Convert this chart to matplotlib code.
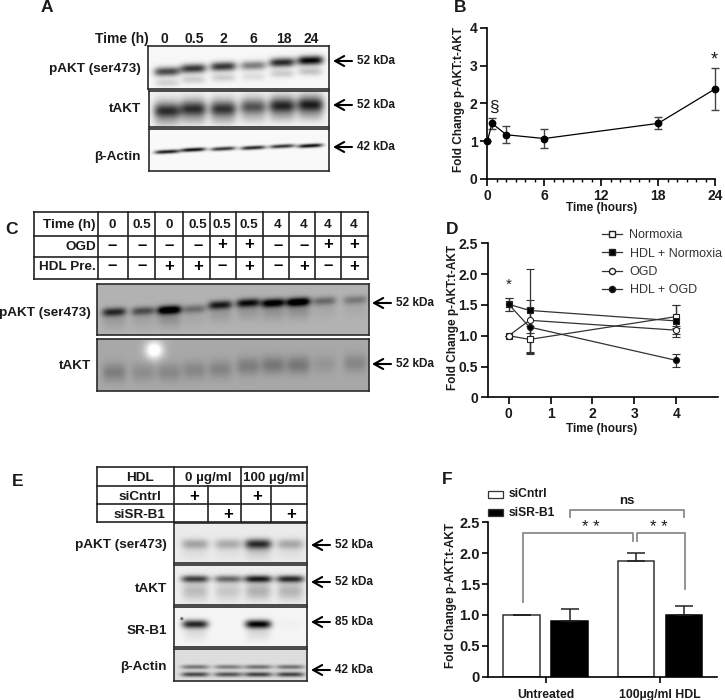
import numpy as np
import matplotlib
matplotlib.use("Agg")
import matplotlib.pyplot as plt
from matplotlib.lines import Line2D
from matplotlib.patches import Rectangle

plt.rcParams['font.family'] = ['Liberation Sans', 'DejaVu Sans']
W, H = 725, 700
BOLD = 'bold'

# ---------- data ----------
b_time = [0, 0.5, 2, 6, 18, 24]
b_fold = [1.0, 1.47, 1.17, 1.07, 1.47, 2.38]
b_err = [0.0, 0.15, 0.23, 0.25, 0.16, 0.55]

d_time = [0, 0.5, 4]
d_norm = [1.0, 0.94, 1.31]
d_norm_err = [0.0, 0.22, 0.19]
d_hdln = [1.51, 1.41, 1.24]
d_hdln_err = [0.11, 0.67, 0.26]
d_ogd = [1.0, 1.25, 1.09]
d_ogd_err = [0.0, 0.2, 0.06]
d_hdlo = [1.51, 1.14, 0.60]
d_hdlo_err = [0.11, 0.44, 0.11]

f_groups = ['Untreated', '100µg/ml HDL']
f_sictrl = [1.0, 1.87]
f_sictrl_err = [0.0, 0.13]
f_sisr = [0.9, 1.0]
f_sisr_err = [0.2, 0.15]

a_lanes = ['0', '0.5', '2', '6', '18', '24']
a_pakt = [0.72, 0.80, 0.80, 0.50, 0.85, 1.0]
a_takt = [0.72, 0.72, 0.70, 0.58, 0.75, 0.78]
a_actin = [0.85, 0.9, 0.75, 0.8, 0.75, 0.9]

c_time = ['0', '0.5', '0', '0.5', '0.5', '0.5', '4', '4', '4', '4']
c_ogd = ['-', '-', '-', '-', '+', '+', '-', '-', '+', '+']
c_hdl = ['-', '-', '+', '+', '-', '+', '-', '+', '-', '+']
c_pakt = [0.62, 0.45, 0.98, 0.30, 0.68, 0.75, 0.88, 0.98, 0.32, 0.25]
c_takt = [0.28, 0.18, 0.22, 0.22, 0.24, 0.28, 0.32, 0.32, 0.12, 0.22]

e_pakt = [0.32, 0.28, 0.85, 0.30]
e_takt = [0.78, 0.60, 0.95, 0.88]
e_srb1 = [0.85, 0.0, 1.0, 0.02]
e_actin = [0.6, 0.55, 0.62, 0.62]

fig = plt.figure(figsize=(W / 100, H / 100), dpi=100, facecolor='white')


def px_axes(x0, y0, x1, y1, **kw):
    return fig.add_axes([x0 / W, 1 - y1 / H, (x1 - x0) / W, (y1 - y0) / H], **kw)


ov = px_axes(0, 0, W, H)
ov.set_xlim(0, W)
ov.set_ylim(H, 0)
ov.axis('off')
ov.set_zorder(5)
ov.patch.set_alpha(0)


def txt(x, y, s, size=9.7, weight=BOLD, ha='center', va='center', color='#1a1a1a', **kw):
    ov.text(x, y, s, fontsize=size, fontweight=weight, ha=ha, va=va, color=color, **kw)


def arrow(x, y, label, length=19):
    ov.annotate('', xy=(x, y), xytext=(x + length, y),
                arrowprops=dict(arrowstyle='->,head_length=0.65,head_width=0.36', lw=1.5,
                                color='black', shrinkA=0, shrinkB=0))
    txt(x + length + 5, y, label, size=8.5, ha='left')


def sign(x, y, s):
    txt(x, y, s, size=12, fontfamily='Liberation Sans', color='black')


def blot(rect, bg, bands, spots=()):
    """rect in pixels; bands: (cx, cy, halfwidth, halfheight, strength, slope)."""
    x0, y0, x1, y1 = rect
    xs, ys = np.meshgrid(np.arange(x0, x1, 0.5), np.arange(y0, y1, 0.5))
    img = np.full(xs.shape, float(bg))
    for cx, cy, hw, hh, s, sl in bands:
        yy = ys - (cy + sl * (xs - cx))
        img -= s * np.exp(-((xs - cx) / hw) ** 4) * np.exp(-(yy / hh) ** 2)
    for cx, cy, r, s in spots:
        img += s * np.exp(-((xs - cx) ** 2 + (ys - cy) ** 2) / r ** 2)
    ax = px_axes(x0, y0, x1, y1)
    ax.imshow(np.clip(img, 0, 1), cmap='gray', vmin=0, vmax=1, aspect='auto',
              extent=(x0, x1, y1, y0), interpolation='bilinear')
    ax.set_xticks([])
    ax.set_yticks([])
    for sp in ax.spines.values():
        sp.set_linewidth(1.2)
        sp.set_color('#2a2a2a')
    return ax


def style_axis(ax, size, pad=2, length=5):
    ax.patch.set_alpha(0)
    ax.spines[['top', 'right']].set_visible(False)
    ax.spines[['left', 'bottom']].set_linewidth(1.2)
    ax.tick_params(axis='both', which='major', length=length, width=1.2, labelsize=size, pad=pad)
    for l in ax.get_xticklabels() + ax.get_yticklabels():
        l.set_fontweight(BOLD)
        l.set_color('#1a1a1a')


# ---------- Panel A ----------
txt(47, 7, 'A', size=12.5)
a_x = [167, 193, 223, 253, 282, 310]
txt(122, 39, 'Time (h)', size=10)
for x, s in zip([164, 194, 223, 253, 284, 311], a_lanes):
    txt(x, 39, s, size=10)
py = [72, 69, 67, 66, 63, 61]
bands = []
for x, y, s in zip(a_x, py, a_pakt):
    bands.append((x, y, 13, 4.5, s * 0.95, -0.03))
    bands.append((x, y + 11, 12, 4, s * 0.2, 0))
blot((148, 46, 329, 88.5), 0.97, bands)
py = [112, 110, 110, 108, 107, 106]
bands = []
for x, y, s in zip(a_x, py, a_takt):
    bands.append((x, y, 13.5, 7, s * 0.95, 0))
    bands.append((x, y - 7, 13, 8, s * 0.25, 0))
    bands.append((x, y + 10, 13, 6, s * 0.25, 0))
blot((149, 91, 329, 126.5), 0.95, bands)
py = [152, 150, 149, 148, 146.5, 146]
bands = [(x, y, 12.5, 1.9, s * 1.05, -0.05) for x, y, s in zip(a_x, py, a_actin)]
blot((149, 128.5, 329, 170.5), 0.98, bands)
txt(141, 69, 'pAKT (ser473)', ha='right')
txt(141, 109, 'tAKT', ha='right')
txt(141, 157, 'β-Actin', ha='right')
arrow(333, 61, '52 kDa')
arrow(333, 105, '52 kDa')
arrow(333, 147, '42 kDa')

# ---------- Panel B ----------
txt(460, 7, 'B', size=12.5)
ax = px_axes(487.3, 27.7, 715, 179)
ax.errorbar(b_time, b_fold, yerr=b_err, fmt='o-', color='black', ms=4.6, lw=0.9,
            ecolor='#444444', elinewidth=1.0, capsize=3, capthick=1.0, clip_on=False, zorder=3)
ax.set_xlim(0, 24)
ax.set_ylim(0, 4)
ax.set_xticks([0, 6, 12, 18, 24])
ax.set_xticks(range(0, 25), minor=True)
ax.set_yticks([0, 1, 2, 3, 4])
style_axis(ax, 10)
ax.tick_params(axis='x', which='minor', length=2.5, width=1.0)
txt(459, 100, 'Fold Change p-AKT:t-AKT', size=8.5, rotation=90)
txt(602, 208, 'Time (hours)', size=8.5)
txt(493.5, 107, '§', size=12.5, weight='normal')
txt(714, 60, '*', size=13, weight='normal')

# ---------- Panel C ----------
txt(12, 229, 'C', size=12.5)
vx = [34.5, 98.3, 127.7, 155, 183.3, 210, 236, 262.7, 289.3, 315, 340.7, 368]
hy = [212, 236, 257.3, 278.5]
for x in vx:
    ov.plot([x, x], [hy[0], hy[-1]], color='#222222', lw=1.2)
for y in hy:
    ov.plot([vx[0], vx[-1]], [y, y], color='#222222', lw=1.2)
for y, s in zip([225, 246.5, 267.5], ['Time (h)', 'OGD', 'HDL Pre.']):
    txt(96, y, s, ha='right')
c_tx = [112, 142, 169, 198, 222, 249, 278, 304, 328, 354]
for x, t, o, h in zip(c_tx, c_time, c_ogd, c_hdl):
    txt(x, 225, t)
    sign(x, 245, '+' if o == '+' else '–')
    sign(x, 266, '+' if h == '+' else '–')
c_x = [114, 143, 169, 194, 220, 248, 273, 298, 324, 355]
py = [312, 311, 310, 309, 305, 303, 303, 302, 301, 300]
bands = []
for x, y, s in zip(c_x, py, c_pakt):
    bands.append((x, y, 12, 4.2, s * 0.85, -0.05))
    bands.append((x, y + 8, 12, 9, s * 0.14, 0))
blot((97, 284.3, 369, 335.3), 0.70, bands)
py = [372, 372, 372, 370, 369, 366, 365, 365, 364, 363]
bands = [(x, y, 12, 9, s * 0.6, 0) for x, y, s in zip(c_x, py, c_takt)]
blot((97, 339.3, 369, 390.7), 0.66, bands, spots=[(154, 350, 9, 0.45)])
txt(91, 313, 'pAKT (ser473)', ha='right')
txt(91, 366, 'tAKT', ha='right')
arrow(372, 303, '52 kDa')
arrow(372, 364, '52 kDa')

# ---------- Panel D ----------
txt(452, 229, 'D', size=12.5)
ax = px_axes(487.7, 243.3, 718, 397.3)
styles = [(d_norm, d_norm_err, 's', 'white', 'Normoxia'),
          (d_hdln, d_hdln_err, 's', 'black', 'HDL + Normoxia'),
          (d_ogd, d_ogd_err, 'o', 'white', 'OGD'),
          (d_hdlo, d_hdlo_err, 'o', 'black', 'HDL + OGD')]
for vals, err, m, fc, lab in styles:
    ax.errorbar(d_time, vals, yerr=err, fmt='-', marker=m, mfc=fc, mec='#222222', mew=0.8,
                color='#333333', ms=4.4, lw=0.9, elinewidth=0.9, capsize=3, capthick=0.9,
                label=lab, clip_on=False, zorder=3)
ax.set_xlim(-0.5, 5)
ax.set_ylim(0, 2.5)
ax.set_xticks([0, 1, 2, 3, 4])
ax.set_yticks([0, 0.5, 1.0, 1.5, 2.0, 2.5], ['0', '0.5', '1.0', '1.5', '2.0', '2.5'])
style_axis(ax, 10)
handles = [Line2D([], [], color='#333333', lw=0.9, marker=m, mfc=fc, mec='#222222', ms=4.4)
           for _, _, m, fc, _ in styles]
ov.legend(handles, [s[4] for s in styles], loc='upper left', bbox_to_anchor=(602 / W, 1 - 229.5 / H),
          bbox_transform=fig.transFigure, frameon=False, fontsize=9, labelspacing=0.5,
          handlelength=1.6, handletextpad=0.6, borderpad=0, borderaxespad=0,
          labelcolor='#333333')
txt(453, 317, 'Fold Change p-AKT:t-AKT', size=8.5, rotation=90)
txt(602, 429, 'Time (hours)', size=8.5)
txt(508.5, 285, '*', size=11, weight='normal')

# ---------- Panel E ----------
txt(18, 481, 'E', size=12.5)
for x, y0, y1 in [(96.7, 466.7, 521.7), (174.3, 466.7, 521.7), (241.3, 466.7, 521.7),
                  (306.7, 466.7, 521.7), (208.3, 486, 521.7), (271, 486, 521.7)]:
    ov.plot([x, x], [y0, y1], color='#222222', lw=1.2)
for y in [466.7, 486, 504, 521.7]:
    ov.plot([96.7, 306.7], [y, y], color='#222222', lw=1.2)
txt(140, 478, 'HDL')
txt(208, 478, '0 µg/ml')
txt(274, 478, '100 µg/ml')
txt(140, 497, 'siCntrl')
txt(139, 515, 'siSR-B1')
for x, y in [(194, 497), (228, 515), (257, 497), (291, 515)]:
    sign(x, y, '+')
e_x = [195, 228, 258, 290]
bands = []
for x, s in zip(e_x, e_pakt):
    bands.append((x, 544, 13.5, 5, s * 0.85, 0))
    bands.append((x, 552, 13, 8, s * 0.14, 0))
blot((174, 523.3, 307, 563.3), 0.92, bands)
bands = []
for x, s in zip(e_x, e_takt):
    bands.append((x, 579, 14, 3.6, s * 0.85, 0))
    bands.append((x, 591, 13, 9, s * 0.25, 0))
blot((174, 565.3, 307, 605.3), 0.93, bands)
bands = []
for x, s in zip(e_x, e_srb1):
    bands.append((x, 624, 13, 4.2, s * 0.95, 0))
    bands.append((x, 633, 12, 7, s * 0.1, 0))
blot((174, 607.3, 307, 646.7), 0.96, bands, spots=[(181.5, 618.5, 1.3, -0.8)])
bands = []
for x, s in zip(e_x, e_actin):
    bands.append((x, 667, 14, 2.2, s * 0.7, 0))
    bands.append((x, 674.5, 14, 2.4, s, 0))
blot((174, 649.3, 307, 681), 0.87, bands)
txt(167, 545, 'pAKT (ser473)', ha='right')
txt(167, 589, 'tAKT', ha='right')
txt(167, 631, 'SR-B1', ha='right')
txt(167, 667, 'β-Actin', ha='right')
arrow(311, 545, '52 kDa')
arrow(311, 582, '52 kDa')
arrow(311, 622, '85 kDa')
arrow(311, 670, '42 kDa')

# ---------- Panel F ----------
txt(447, 480, 'F', size=12.5)
ax = px_axes(488.3, 522.3, 716.7, 676.7)
pos = np.arange(len(f_groups))
ax.bar(pos - 0.21, f_sictrl, 0.32, color='white', edgecolor='#333333', lw=1.1)
ax.errorbar(pos - 0.21, f_sictrl, yerr=[[0, 0], f_sictrl_err], fmt='none', ecolor='#222222',
            elinewidth=1.1, capsize=6.5, capthick=1.1)
ax.bar(pos + 0.21, f_sisr, 0.32, color='black', edgecolor='black', lw=1.1)
ax.errorbar(pos + 0.21, f_sisr, yerr=[[0, 0], f_sisr_err], fmt='none', ecolor='#222222',
            elinewidth=1.1, capsize=6.5, capthick=1.1)
ax.set_xlim(-0.502, 1.496)
ax.set_ylim(0, 2.5)
ax.set_xticks(pos, f_groups)
ax.set_yticks([0, 0.5, 1.0, 1.5, 2.0, 2.5], ['0', '0.5', '1.0', '1.5', '2.0', '2.5'])
style_axis(ax, 8.8, pad=5, length=4)
ax.tick_params(axis='y', pad=2, labelsize=10.5)
txt(451, 595, 'Fold Change p-AKT:t-AKT', size=8.5, rotation=90)
for y, c in [(494.5, 'white'), (512.5, 'black')]:
    ov.add_patch(Rectangle((488.5, y - 3.5), 14.5, 7, fc=c, ec='#333333', lw=0.9))
txt(509, 494, 'siCntrl', size=8.7, ha='left')
txt(509, 513, 'siSR-B1', size=8.7, ha='left')
g = '#8a8a8a'
ov.plot([522.7, 522.7, 633.3, 633.3], [601.7, 533.3, 533.3, 541], color=g, lw=1.3)
ov.plot([637.3, 637.3, 685, 685], [541, 533.3, 533.3, 589], color=g, lw=1.3)
ov.plot([570.3, 570.3, 684, 684], [517.3, 510, 510, 517.3], color=g, lw=1.3)
txt(590.5, 528, '* *', size=12, weight='normal')
txt(659, 528, '* *', size=12, weight='normal')
txt(627, 501, 'ns', size=9.5)

fig.savefig('out.png', dpi=100)
